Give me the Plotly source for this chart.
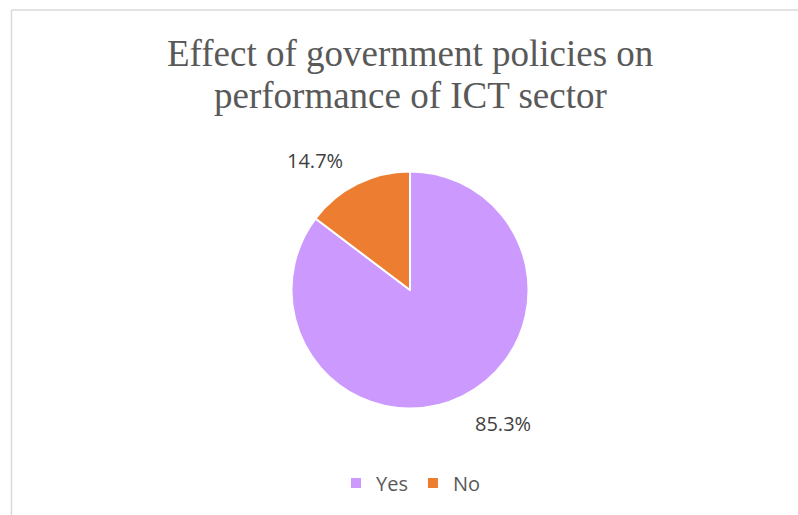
import plotly.graph_objects as go

categories = ["Yes", "No"]
values = [85.3, 14.7]
colors = ["#CC99FF", "#ED7D31"]
title_lines = ["Effect of government policies on", "performance of ICT sector"]

W, H = 798, 515
cx, cy, R = 410, 290, 118.5

fig = go.Figure(go.Pie(
    labels=categories,
    values=values,
    sort=False,
    direction="clockwise",
    rotation=0,
    textinfo="none",
    hoverinfo="label+percent",
    marker=dict(colors=colors, line=dict(color="white", width=2)),
    domain=dict(x=[(cx - R) / W, (cx + R) / W], y=[1 - (cy + R) / H, 1 - (cy - R) / H]),
))

label_pos = {"No": (315, 160), "Yes": (503, 423)}
for cat, v in zip(categories, values):
    px, py = label_pos[cat]
    fig.add_annotation(x=px / W, y=1 - py / H, xref="paper", yref="paper",
                       xanchor="center", yanchor="middle",
                       text=f"{v:.1f}%", showarrow=False,
                       font=dict(family="Open Sans", size=20, color="#404040"))

for line, ty in zip(title_lines, [53, 95]):
    fig.add_annotation(x=cx / W, y=1 - ty / H, xref="paper", yref="paper",
                       xanchor="center", yanchor="middle",
                       text=line, showarrow=False,
                       font=dict(family="Liberation Serif", size=37, color="#595959"))

# chart area border (top and left visible)
fig.add_shape(type="line", xref="paper", yref="paper", x0=11.5 / W, x1=1.01, y0=1 - 10 / H, y1=1 - 10 / H,
              line=dict(color="#D9D9D9", width=1.5))
fig.add_shape(type="line", xref="paper", yref="paper", x0=11.5 / W, x1=11.5 / W, y0=-0.01, y1=1 - 10 / H,
              line=dict(color="#D9D9D9", width=1.5))

fig.update_layout(
    width=W, height=H,
    margin=dict(l=0, r=0, t=0, b=0),
    paper_bgcolor="white",
    showlegend=True,
    legend=dict(orientation="h", x=411 / W, xanchor="center", y=1 - 483 / H, yanchor="middle",
                font=dict(family="Open Sans", size=20, color="#595959")),
)

fig.write_html("out.html")
